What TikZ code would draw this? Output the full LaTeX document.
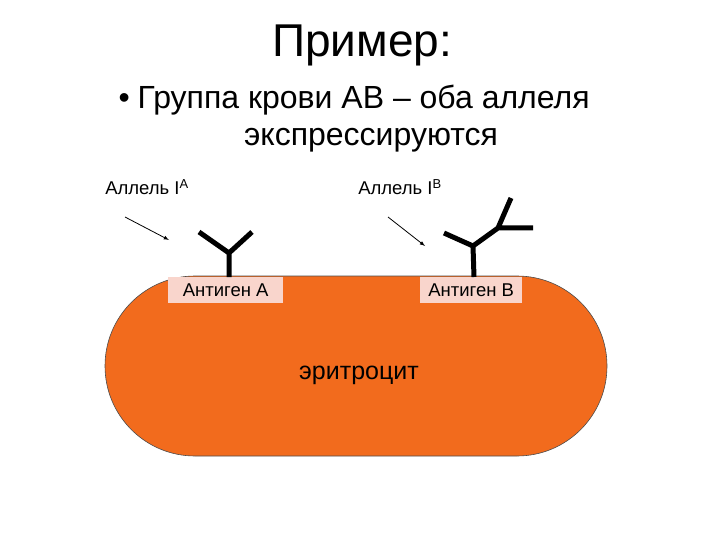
\documentclass[tikz,border=0pt]{standalone}
\usepackage{fontspec}
\setmainfont{Liberation Sans}
\begin{document}
\begin{tikzpicture}[x=1pt,y=-1pt,
  lbl/.style={font=\fontsize{18.5}{21}\selectfont},
  agbox/.style={fill=agpink,inner sep=0pt,anchor=north west},
  stick/.style={line width=5pt},
  ptr/.style={-latex,line width=0.8pt}]
\definecolor{cellorange}{HTML}{F26B1D}
\definecolor{agpink}{HTML}{F9D5CC}
\useasboundingbox (0,0) rectangle (720,540);
\node[font=\fontsize{46}{52}\selectfont] (title) at (362,45) {Пример:};
\node[anchor=west,font=\fontsize{32}{38}\selectfont] (b1) at (115,100) {•\hspace{8pt}Группа крови АВ – оба аллеля};
\node[font=\fontsize{32}{38}\selectfont] (b2) at (371,140) {экспрессируются};
\draw[fill=cellorange,draw=black!70,line width=0.6pt,rounded corners=90pt] (105,276) rectangle (607,456);
\node[agbox,minimum width=115pt,minimum height=26pt] (agA) at (168,277) {};
\node[lbl] at (agA.center) {Антиген А};
\node[agbox,minimum width=102pt,minimum height=26pt] (agB) at (420,277) {};
\node[lbl] at (agB.center) {Антиген В};
\node[font=\fontsize{25}{30}\selectfont] (ery) at (359,375) {эритроцит};
\coordinate (ja) at (229,253);
\draw[stick] (229,277) -- (ja) (199,232) -- (ja) -- (252,232);
\coordinate (jb) at (473,246);
\coordinate (jb2) at (498,228);
\draw[stick] (474,277) -- (jb) (444,233) -- (jb) -- (jb2) (511,198) -- (jb2) -- (533,228);
\node[lbl] (alA) at (147,187) {Аллель I\textsuperscript{A}};
\node[lbl] (alB) at (400,187) {Аллель I\textsuperscript{B}};
\coordinate (pa1) at (125,217); \coordinate (pa2) at (169,240);
\coordinate (pb1) at (388,217); \coordinate (pb2) at (425,246);
\draw[ptr] (pa1) -- (pa2);
\draw[ptr] (pb1) -- (pb2);
\end{tikzpicture}
\end{document}
